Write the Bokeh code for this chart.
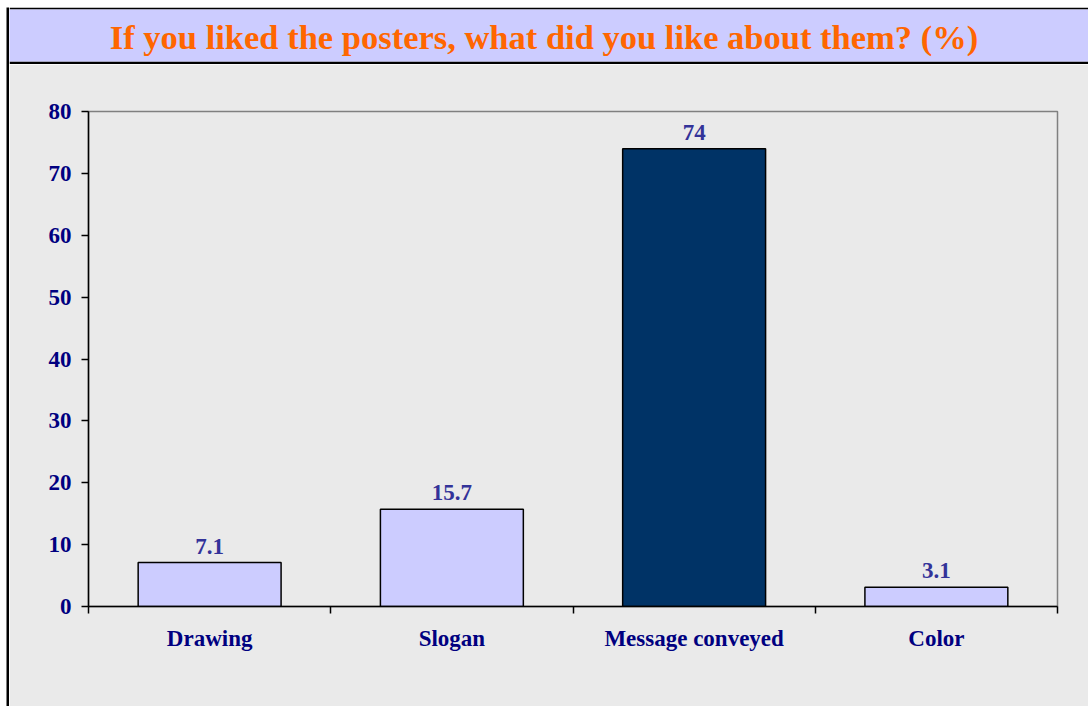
from bokeh.plotting import figure
from bokeh.layouts import row, column
from bokeh.models import (ColumnDataSource, Range1d, LinearAxis, Spacer,
                          FixedTicker, LabelSet)
from bokeh.embed import file_html
from bokeh.resources import INLINE

# ---- data ----
categories = ["Drawing", "Slogan", "Message conveyed", "Color"]
percentages = [7.1, 15.7, 74, 3.1]
y_ticks = [0, 10, 20, 30, 40, 50, 60, 70, 80]
title_text = "If you liked the posters, what did you like about them? (%)"

# ---- styles ----
FONT = "Liberation Serif"
BG = "#EAEAEA"
LAVENDER = "#CCCCFF"
HILITE = "#003366"
NAVY = "#000080"
LABEL_BLUE = "#333399"
TITLE_ORANGE = "#FF6600"
FS = "23px"

# ---- layout geometry (pixels) ----
PAGE_W, PAGE_H = 1088, 706
MARGIN_L, MARGIN_T = 6, 7        # white page edge
EDGE = 3                          # black left border strip
CW = PAGE_W - MARGIN_L - EDGE     # content width
BAND_H = 57                       # title band incl. black rules
MAIN_H = PAGE_H - MARGIN_T - BAND_H
FL, FR, FT, FB = 79, 1048, 47, 542  # main frame edges inside main figure

# ---- title band ----
band_fw, band_fh = CW, BAND_H - 5
band = figure(width=CW, height=BAND_H, output_backend="svg", toolbar_location=None,
              x_range=Range1d(0, band_fw), y_range=Range1d(0, band_fh),
              x_axis_location=None, y_axis_location=None,
              min_border_left=0, min_border_right=0,
              min_border_top=2, min_border_bottom=3)
band.background_fill_color = LAVENDER
band.border_fill_color = "black"
band.outline_line_color = None
band.xgrid.grid_line_color = None
band.ygrid.grid_line_color = None
title_src = ColumnDataSource(dict(x=[534.5], y=[12.5], t=[title_text]))
band.add_layout(LabelSet(x="x", y="y", text="t", source=title_src,
                         text_align="center", text_baseline="alphabetic",
                         text_font=FONT, text_font_size="34.5px",
                         text_font_style="bold", text_color=TITLE_ORANGE))

# ---- main chart ----
n = len(categories)
slots = list(range(n))
top_val = max(percentages)
bar_colors = [HILITE if v == top_val else LAVENDER for v in percentages]
source = ColumnDataSource(dict(
    slot=slots,
    val=percentages,
    lbl=[f"{v:g}" for v in percentages],
    color=bar_colors,
))

p = figure(width=CW, height=MAIN_H,
           x_range=Range1d(-0.5, n - 0.5),
           y_range=Range1d(0, y_ticks[-1]),
           output_backend="svg", toolbar_location=None,
           x_axis_location=None, y_axis_location=None,
           min_border_left=FL, min_border_right=CW - FR,
           min_border_top=FT, min_border_bottom=MAIN_H - FB)
p.background_fill_color = BG
p.border_fill_color = BG
p.outline_line_color = "#808080"
p.outline_line_width = 1.5
p.xgrid.grid_line_color = None
p.ygrid.grid_line_color = None

yaxis = LinearAxis(ticker=FixedTicker(ticks=y_ticks),
                   axis_line_color="black", axis_line_width=1.5,
                   major_tick_line_color="black", major_tick_line_width=1.5,
                   major_tick_out=7, major_tick_in=0,
                   minor_tick_line_color=None,
                   major_label_standoff=10,
                   major_label_text_font=FONT,
                   major_label_text_font_size=FS,
                   major_label_text_font_style="bold",
                   major_label_text_color=NAVY)
p.add_layout(yaxis, "left")

boundaries = [i - 0.5 for i in range(n + 1)]
xticks_axis = LinearAxis(ticker=FixedTicker(ticks=boundaries),
                         axis_line_color="black", axis_line_width=1.5,
                         major_tick_line_color="black", major_tick_line_width=1.5,
                         major_tick_out=7, major_tick_in=0,
                         minor_tick_line_color=None,
                         major_label_standoff=0,
                         major_label_text_font_size="0px",
                         major_label_text_alpha=0)
p.add_layout(xticks_axis, "below")

xcat = LinearAxis(ticker=FixedTicker(ticks=slots),
                  major_label_overrides={i: c for i, c in zip(slots, categories)},
                  axis_line_color=None, major_tick_line_color=None,
                  minor_tick_line_color=None,
                  major_tick_out=0, major_tick_in=0,
                  major_label_standoff=12,
                  major_label_text_font=FONT,
                  major_label_text_font_size=FS,
                  major_label_text_font_style="bold",
                  major_label_text_color=NAVY)
p.add_layout(xcat, "below")

p.vbar(x="slot", top="val", width=0.59, source=source,
       fill_color="color", line_color="black", line_width=1.5)

labels = LabelSet(x="slot", y="val", text="lbl", source=source,
                  y_offset=9, text_align="center", text_baseline="alphabetic",
                  text_font=FONT, text_font_size=FS, text_font_style="bold",
                  text_color=LABEL_BLUE)
p.add_layout(labels)

# ---- black left border strip ----
edge = figure(width=EDGE, height=PAGE_H - MARGIN_T, output_backend="svg",
              toolbar_location=None, x_range=Range1d(0, 1), y_range=Range1d(0, 1),
              x_axis_location=None, y_axis_location=None,
              min_border_left=0, min_border_right=0,
              min_border_top=0, min_border_bottom=0)
edge.background_fill_color = "black"
edge.border_fill_color = "black"
edge.outline_line_color = None
edge.xgrid.grid_line_color = None
edge.ygrid.grid_line_color = None

layout = column(
    Spacer(width=PAGE_W, height=MARGIN_T),
    row(Spacer(width=MARGIN_L, height=PAGE_H - MARGIN_T), edge,
        column(row(band, spacing=0), row(p, spacing=0), spacing=0), spacing=0),
    spacing=0,
)

open("out.html", "w").write(file_html(layout, INLINE))
